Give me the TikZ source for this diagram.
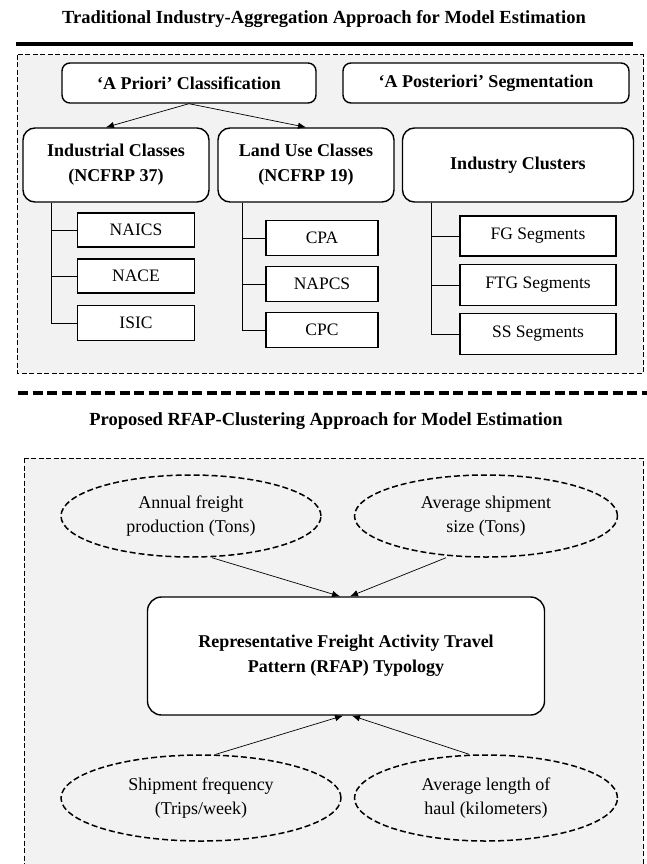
\documentclass[tikz,border=0pt]{standalone}
\usepackage{fontspec}
\setmainfont{Liberation Serif}
\usetikzlibrary{shapes.geometric,arrows.meta}
\definecolor{panelgray}{HTML}{F2F2F2}
\tikzset{
  headbox/.style={draw, line width=1.4pt, rounded corners=8pt, fill=white,
    inner sep=0pt, font=\fontsize{18}{25}\selectfont\bfseries},
  classbox/.style={draw, line width=1.4pt, rounded corners=12pt, fill=white,
    inner sep=0pt, align=center, font=\fontsize{18}{25}\selectfont\bfseries},
  leafbox/.style={draw, line width=1.4pt, fill=white, inner sep=0pt,
    font=\fontsize{17.5}{20}\selectfont},
  factor/.style={ellipse, draw, dash pattern=on 6pt off 3pt, line width=1.5pt,
    inner sep=0pt, align=center, font=\fontsize{18}{24}\selectfont},
  panel/.style={draw, line width=1pt, dash pattern=on 5pt off 2.5pt, fill=panelgray},
  feed/.style={-{Latex[length=8pt,width=6.5pt]}, line width=0.7pt},
  branch/.style={line width=0.9pt}
}
\begin{document}
\begin{tikzpicture}[x=1pt,y=-1pt]
    \useasboundingbox (0,0) rectangle (647,864);
    \clip (0,0) rectangle (647,864);

    % Upper part: traditional approach
    \node[font=\fontsize{18.5}{21}\selectfont\bfseries] (title1) at (324,19)
        {Traditional Industry-Aggregation Approach for Model Estimation};
    \draw[line width=3.5pt] (16,44) -- (633,44);
    \path[panel] (17,55) rectangle (643,373);

    \node[headbox, minimum width=254pt, minimum height=40pt] (apriori) at (189,83)
        {`A Priori' Classification};
    \node[headbox, minimum width=286pt, minimum height=40pt] (apost) at (486,83)
        {`A Posteriori' Segmentation};

    \node[classbox, minimum width=186pt, minimum height=74pt] (indcls) at (116,165)
        {Industrial Classes\\(NCFRP 37)};
    \node[classbox, minimum width=176pt, minimum height=74pt] (landcls) at (306,165)
        {Land Use Classes\\(NCFRP 19)};
    \node[classbox, minimum width=231pt, minimum height=74pt] (clusters) at (518,165)
        {Industry Clusters};

    \draw[feed] (apriori.south) -- ([xshift=-10pt]indcls.north);
    \draw[feed] (apriori.south) -- (landcls.north);

    % leaves of the three classes
    \node[leafbox, minimum width=117pt, minimum height=34pt] (naics) at (136,230) {NAICS};
    \node[leafbox, minimum width=117pt, minimum height=34pt] (nace)  at (136,276) {NACE};
    \node[leafbox, minimum width=117pt, minimum height=35pt] (isic)  at (136,323) {ISIC};

    \node[leafbox, minimum width=112pt, minimum height=35pt] (cpa)   at (322,238) {CPA};
    \node[leafbox, minimum width=112pt, minimum height=35pt] (napcs) at (322,284) {NAPCS};
    \node[leafbox, minimum width=112pt, minimum height=35pt] (cpc)   at (322,330) {CPC};

    \node[leafbox, minimum width=156pt, minimum height=40pt] (fg)  at (538,236) {FG Segments};
    \node[leafbox, minimum width=156pt, minimum height=41pt] (ftg) at (538,285) {FTG Segments};
    \node[leafbox, minimum width=156pt, minimum height=41pt] (ss)  at (538,334) {SS Segments};

    \foreach \leaf in {naics,nace,isic}
        \draw[branch] ([xshift=29pt]indcls.south west) |- (\leaf.west);
    \foreach \leaf in {cpa,napcs,cpc}
        \draw[branch] ([xshift=25pt]landcls.south west) |- (\leaf.west);
    \foreach \leaf in {fg,ftg,ss}
        \draw[branch] ([xshift=30pt]clusters.south west) |- (\leaf.west);

    % Separator
    \draw[line width=3.5pt, dash pattern=on 10pt off 4.5pt] (18,393) -- (647,393);

    % Lower part: proposed approach
    \node[font=\fontsize{18.5}{21}\selectfont\bfseries] (title2) at (326,421)
        {Proposed RFAP-Clustering Approach for Model Estimation};
    \path[panel] (24,458) rectangle (643,880);

    \node[factor, minimum width=260pt, minimum height=82pt] (freight) at (191,516)
        {Annual freight\\production (Tons)};
    \node[factor, minimum width=263pt, minimum height=82pt] (size) at (486,516)
        {Average shipment\\size (Tons)};
    \node[classbox, rounded corners=14pt, minimum width=397pt, minimum height=118pt] (rfap) at (346,656)
        {Representative Freight Activity Travel\\Pattern (RFAP) Typology};
    \node[factor, minimum width=280pt, minimum height=86pt] (freq) at (201,798)
        {Shipment frequency\\(Trips/week)};
    \node[factor, minimum width=263pt, minimum height=86pt] (haul) at (486,798)
        {Average length of\\haul (kilometers)};

    \draw[feed] ([xshift=21pt]freight.south) -- ([xshift=-6pt]rfap.north);
    \draw[feed] ([xshift=-40pt]size.south) -- ([xshift=4pt]rfap.north);
    \draw[feed] ([xshift=15pt]freq.north) -- ([xshift=-3pt]rfap.south);
    \draw[feed] ([xshift=-17pt]haul.north) -- ([xshift=6pt]rfap.south);
\end{tikzpicture}
\end{document}
